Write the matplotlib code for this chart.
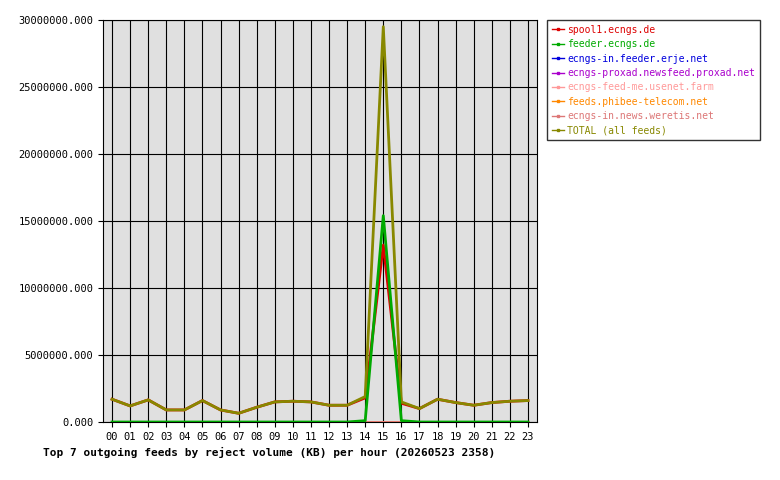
import matplotlib
matplotlib.use("Agg")
import matplotlib.pyplot as plt

hours = ["%02d" % h for h in range(24)]
total = [1.7e6,1.2e6,1.65e6,0.9e6,0.9e6,1.6e6,0.9e6,0.65e6,1.1e6,1.5e6,1.55e6,1.5e6,1.25e6,1.25e6,1.9e6,29.5e6,1.5e6,1.0e6,1.7e6,1.45e6,1.25e6,1.45e6,1.55e6,1.6e6]
feeder = [0]*14 + [0.1e6,15.4e6,0.1e6] + [0]*7
spool1 = [1.7e6,1.2e6,1.65e6,0.9e6,0.9e6,1.6e6,0.9e6,0.65e6,1.1e6,1.5e6,1.55e6,1.5e6,1.25e6,1.25e6,1.8e6,13.2e6,1.4e6,1.0e6,1.7e6,1.45e6,1.25e6,1.45e6,1.55e6,1.6e6]
small = [0.02e6]*24
names = ["spool1.ecngs.de","feeder.ecngs.de","ecngs-in.feeder.erje.net","ecngs-proxad.newsfeed.proxad.net",
         "ecngs-feed-me.usenet.farm","feeds.phibee-telecom.net","ecngs-in.news.weretis.net","TOTAL (all feeds)"]
colors = ["#dd0000","#00aa00","#0000dd","#aa00cc","#ff9999","#ff8800","#dd7777","#888800"]
series = [spool1, feeder, small, small, small, small, small, total]

plt.rcParams['font.family'] = ['DejaVu Sans Mono']
fig = plt.figure(figsize=(7.8,4.8), dpi=100)
ax = fig.add_axes([103/780, 58/480, 434/780, 402/480])
ax.set_facecolor("#e0e0e0")
x = list(range(24))
for i in [2,3,4,5,6,0,7,1]:
    ax.plot(x, series[i], color=colors[i], lw=2, zorder=3)
handles = [plt.Line2D([],[],color=c,lw=1,marker='s',markersize=2) for c in colors]
leg = fig.legend(handles, names, loc='upper left', bbox_to_anchor=(547/780, 1-20/480), fontsize=7,
                 frameon=True, fancybox=False, edgecolor='black', handlelength=1.2, labelspacing=0.45,
                 borderaxespad=0, borderpad=0.5, handletextpad=0.4)
for t,c in zip(leg.get_texts(), colors):
    t.set_color(c)
ax.set_xlim(-0.5, 23.5)
ax.set_ylim(0, 30e6)
ax.set_xticks(x, hours, fontsize=7.5)
yt = [0,5e6,10e6,15e6,20e6,25e6,30e6]
ax.set_yticks(yt, ["%.3f" % v for v in yt], fontsize=7.5)
ax.grid(True, color='black', lw=0.8)
ax.set_axisbelow(True)
for s in ax.spines.values():
    s.set_color('black')
fig.text(43/780, 1-452/480, "Top 7 outgoing feeds by reject volume (KB) per hour (20260523 2358)",
         fontsize=8, fontweight='bold', va='center')
fig.savefig("out.png", dpi=100)
